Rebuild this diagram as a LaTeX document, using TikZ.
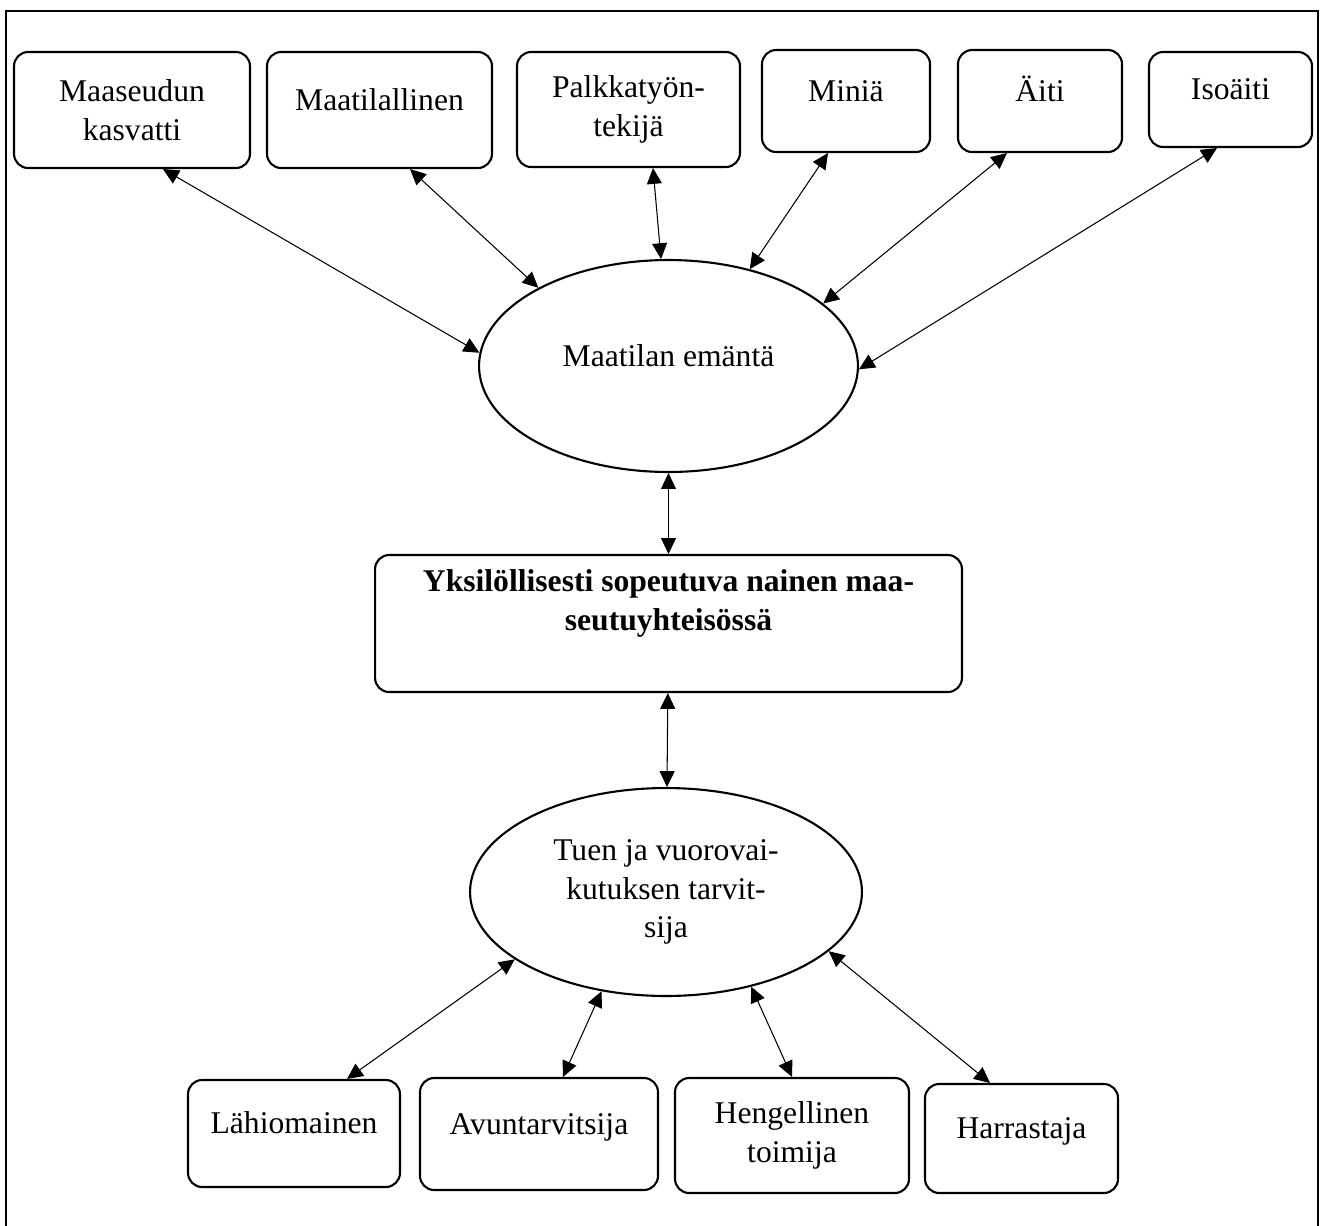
\documentclass[tikz,border=0pt]{standalone}
\usepackage{fontspec}
\setmainfont{Liberation Serif}
\usetikzlibrary{arrows.meta, shapes.geometric}

\begin{document}
\begin{tikzpicture}[x=0.02cm, y=-0.02cm,
  role/.style={rectangle, draw, line width=1.2pt, rounded corners=8pt, align=center, font=\fontsize{18}{22}\selectfont},
  single/.style={text height=12pt, text depth=12pt},
  hub/.style={ellipse, draw, line width=1.2pt, align=center, font=\fontsize{18}{22}\selectfont},
  link/.style={{Triangle[length=9pt, width=8.5pt]}-{Triangle[length=9pt, width=8.5pt]}, line width=0.6pt}
]
  \useasboundingbox (0,0) rectangle (1326,1225);
  \draw[line width=1.5pt] (6,11) rectangle (1318,1240);

  \node[role, minimum width=4.72cm, minimum height=2.32cm] (kasvatti) at (132,110) {Maaseudun\\kasvatti};
  \node[role, single, minimum width=4.50cm, minimum height=2.32cm] (tilallinen) at (379.5,110) {Maatilallinen};
  \node[role, minimum width=4.46cm, minimum height=2.30cm] (palkka) at (628.5,109.5) {Palkkatyön-\\tekijä};
  \node[role, single, minimum width=3.36cm, minimum height=2.04cm] (minia) at (846,101) {Miniä};
  \node[role, single, minimum width=3.28cm, minimum height=2.04cm] (aiti) at (1040,101) {Äiti};
  \node[role, single, minimum width=3.26cm, minimum height=1.90cm] (isoaiti) at (1230.5,99.5) {Isoäiti};

  \node[hub, single, minimum width=7.58cm, minimum height=4.24cm] (emanta) at (668.5,366) {Maatilan emäntä};
  \node[role, text height=34pt, text depth=26.6pt, font=\fontsize{18}{22}\selectfont\bfseries, minimum width=11.74cm, minimum height=2.74cm] (nainen) at (668.5,623.5) {Yksilöllisesti sopeutuva nainen maa-\\seutuyhteisössä};
  \node[hub, minimum width=7.84cm, minimum height=4.16cm] (tarvitsija) at (666,892) {Tuen ja vuorovai-\\kutuksen tarvit-\\sija};

  \node[role, single, minimum width=4.24cm, minimum height=2.14cm] (omainen) at (294,1133.5) {Lähiomainen};
  \node[role, single, minimum width=4.76cm, minimum height=2.24cm] (avun) at (539,1134) {Avuntarvitsija};
  \node[role, minimum width=4.68cm, minimum height=2.30cm] (hengell) at (792,1135.5) {Hengellinen\\toimija};
  \node[role, single, minimum width=3.86cm, minimum height=2.18cm] (harrastaja) at (1021.5,1138.5) {Harrastaja};

  \draw[link] ([xshift=0.62cm]kasvatti.south) -- (emanta.176);
  \draw[link] ([xshift=0.61cm]tilallinen.south) -- (emanta.149);
  \draw[link] ([xshift=0.49cm]palkka.south) -- (emanta.94.5);
  \draw[link] ([xshift=-0.36cm]minia.south) -- (emanta.50);
  \draw[link] ([xshift=-0.66cm]aiti.south) -- (emanta.22);
  \draw[link] ([xshift=-0.27cm]isoaiti.south) -- (emanta.-1);
  \draw[link] (emanta) -- (nainen);
  \draw[link] (nainen) -- (tarvitsija);
  \draw[link] (tarvitsija.204) -- ([xshift=1.06cm]omainen.north);
  \draw[link] (tarvitsija.237) -- ([xshift=0.48cm]avun.north);
  \draw[link] (tarvitsija.312) -- (hengell.north);
  \draw[link] (tarvitsija.340) -- ([xshift=-0.63cm]harrastaja.north);
\end{tikzpicture}
\end{document}
